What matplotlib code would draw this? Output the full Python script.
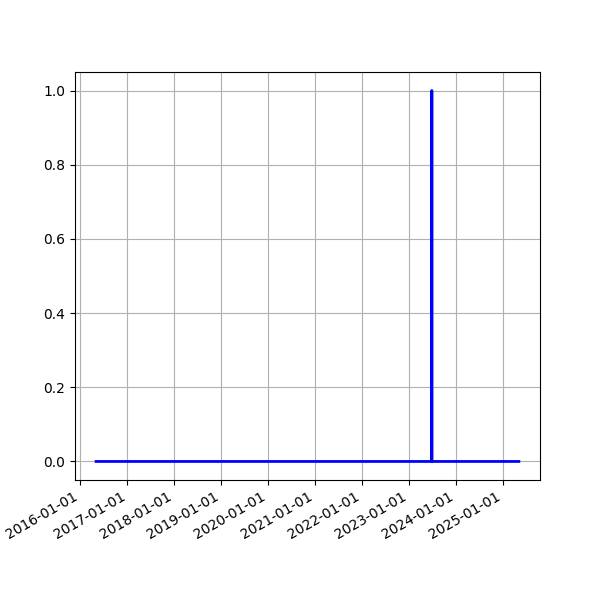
import matplotlib
matplotlib.use('Agg')
import matplotlib.pyplot as plt
import matplotlib.dates as mdates
import numpy as np

# series values (one spike in mid-2023)
dates = np.array(['2016-05-02', '2023-06-29', '2023-06-30', '2023-07-01',
                  '2025-05-08'], dtype='datetime64[D]')
values = [0, 0, 1, 0, 0]

fig, ax = plt.subplots(figsize=(6, 6), dpi=100)
ax.plot(dates, values, color='blue', linewidth=2)

ax.xaxis.set_major_locator(mdates.YearLocator())
ax.xaxis.set_major_formatter(mdates.DateFormatter('%Y-%m-%d'))
ax.grid(True)
fig.autofmt_xdate()

fig.savefig('out.png')
